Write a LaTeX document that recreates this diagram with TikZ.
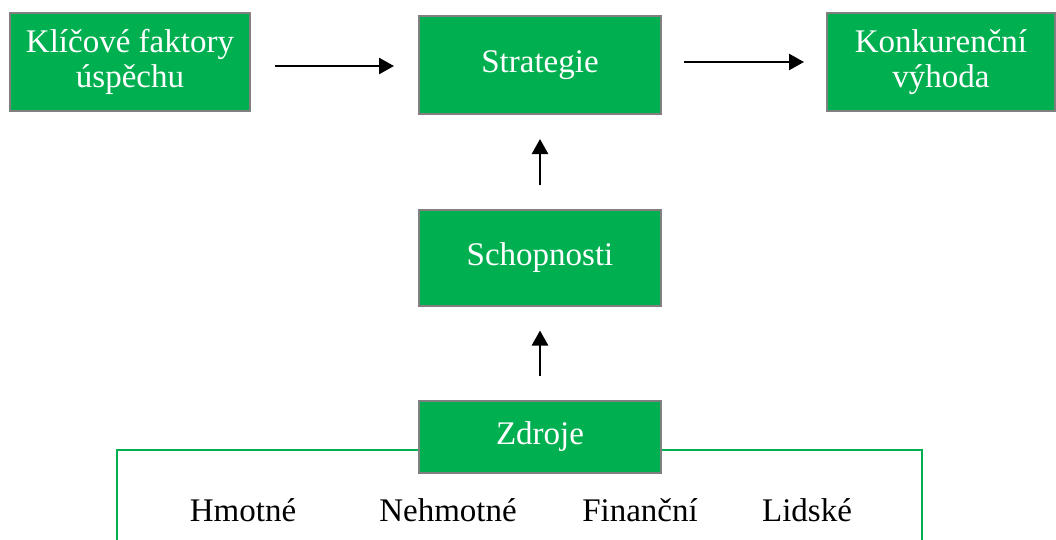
\documentclass[tikz,border=0pt]{standalone}
\usepackage{fontspec}
\setmainfont{Liberation Serif}
\usepackage{tikz}
\definecolor{boxgreen}{RGB}{0,176,80}
\definecolor{boxgray}{RGB}{128,128,128}
\usetikzlibrary{arrows.meta}

\tikzset{
    greenbox/.style={draw=boxgray, line width=2pt, fill=boxgreen, text=white,
        align=center, inner sep=0pt, minimum width=242pt, minimum height=98pt,
        font=\fontsize{33}{35}\selectfont},
    label/.style={font=\fontsize{33}{35}\selectfont, anchor=base},
    arr/.style={line width=2.5pt, -{Triangle[length=15pt, width=16pt]}}
}

\begin{document}
\begin{tikzpicture}[x=1pt, y=-1pt]
        \useasboundingbox (0,0) rectangle (1056,539);

        \draw[boxgreen, line width=2.5pt] (117,545) -- (117,450) -- (922,450) -- (922,545);

        \node[greenbox, minimum width=240pt] (faktory) at (130,62) {Klíčové faktory\\úspěchu};
        \node[greenbox] (strategie) at (540,65) {Strategie};
        \node[greenbox, minimum width=228pt] (vyhoda) at (941,62) {Konkurenční\\výhoda};
        \node[greenbox, minimum height=96pt] (schopnosti) at (540,257.5) {Schopnosti};
        \node[greenbox, minimum height=72pt] (zdroje) at (540,437) {Zdroje};

        \node[label] (hmotne) at (243,521) {Hmotné};
        \node[label] (nehmotne) at (448,521) {Nehmotné};
        \node[label] (financni) at (640,521) {Finanční};
        \node[label] (lidske) at (807,521) {Lidské};

        \coordinate (a1) at (275,66);
        \coordinate (a2) at (394,66);
        \coordinate (b1) at (684,62);
        \coordinate (b2) at (804,62);
        \draw[arr] (a1) -- (a2);
        \draw[arr] (b1) -- (b2);
        \draw[arr] ([yshift=24pt]schopnosti.north) -- ([yshift=-24pt]strategie.south);
        \draw[arr] ([yshift=24pt]zdroje.north) -- ([yshift=-24pt]schopnosti.south);
    \end{tikzpicture}
\end{document}
